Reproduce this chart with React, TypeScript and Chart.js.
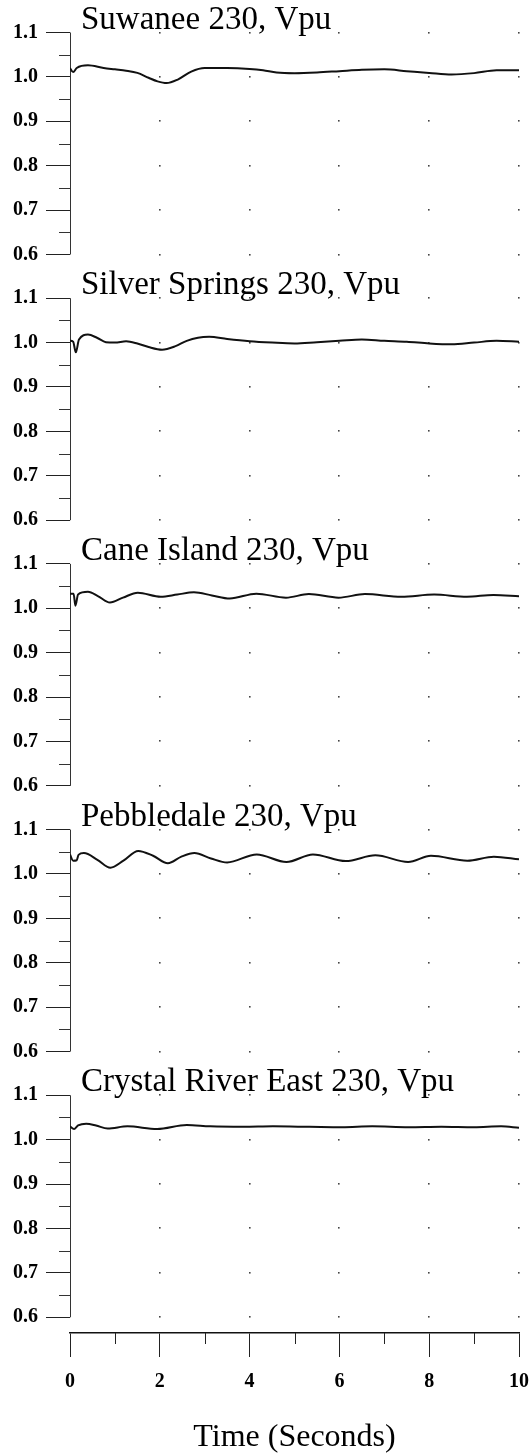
import React, { useEffect, useRef } from 'react';
import { Chart, registerables } from 'chart.js';

Chart.register(...registerables);

// ---------- data ----------
const timeTicks = [0, 1, 2, 3, 4, 5, 6, 7, 8, 9, 10];
const voltTicks = [0.6, 0.65, 0.7, 0.75, 0.8, 0.85, 0.9, 0.95, 1.0, 1.05, 1.1];
const panelTitles = [
  'Suwanee 230, Vpu',
  'Silver Springs 230, Vpu',
  'Cane Island 230, Vpu',
  'Pebbledale 230, Vpu',
  'Crystal River East 230, Vpu',
];

const suwaneeT = [0, 0.07, 0.15, 0.4, 0.75, 1.0, 1.25, 1.5, 1.75, 1.95, 2.15, 2.4, 2.7, 3.0, 3.5, 4.0, 4.3, 4.6, 5.0, 5.5, 6.0, 6.5, 7.0, 7.5, 8.0, 8.5, 9.0, 9.5, 10];
const suwaneeV = [1.020, 1.011, 1.020, 1.026, 1.020, 1.017, 1.014, 1.009, 0.998, 0.990, 0.986, 0.994, 1.012, 1.020, 1.020, 1.018, 1.015, 1.010, 1.0085, 1.010, 1.013, 1.016, 1.017, 1.013, 1.009, 1.0055, 1.0085, 1.015, 1.015];

const silverT = [0, 0.07, 0.13, 0.2, 0.4, 0.6, 0.8, 1.0, 1.25, 1.5, 1.75, 2.05, 2.35, 2.6, 2.85, 3.1, 3.5, 4.0, 4.5, 5.0, 5.5, 6.0, 6.5, 7.0, 7.5, 8.0, 8.5, 9.0, 9.5, 10];
const silverV = [1.004, 1.002, 0.978, 1.007, 1.018, 1.011, 1.001, 1.000, 1.003, 0.998, 0.990, 0.984, 0.992, 1.004, 1.011, 1.013, 1.008, 1.003, 1.000, 0.998, 1.001, 1.004, 1.007, 1.004, 1.002, 0.998, 0.996, 1.000, 1.004, 1.002];

const caneT = [0, 0.08, 0.12, 0.18, 0.4, 0.63, 0.89, 1.18, 1.51, 2.02, 2.39, 2.76, 3.16, 3.56, 4.15, 4.81, 5.32, 5.98, 6.57, 7.38, 8.11, 8.84, 9.43, 10];
const caneV = [1.033, 1.033, 1.006, 1.031, 1.037, 1.027, 1.013, 1.024, 1.035, 1.026, 1.031, 1.036, 1.029, 1.022, 1.033, 1.024, 1.032, 1.024, 1.032, 1.026, 1.031, 1.026, 1.030, 1.027];

const pebbleT = [0, 0.07, 0.15, 0.19, 0.31, 0.61, 0.9, 1.19, 1.52, 1.85, 2.18, 2.48, 2.77, 3.14, 3.5, 4.16, 4.82, 5.41, 6.14, 6.8, 7.53, 8.04, 8.85, 9.44, 10];
const pebbleV = [1.044, 1.030, 1.031, 1.043, 1.047, 1.032, 1.014, 1.030, 1.052, 1.041, 1.024, 1.039, 1.047, 1.035, 1.026, 1.044, 1.027, 1.044, 1.029, 1.042, 1.027, 1.041, 1.030, 1.039, 1.033];

const crystalT = [0, 0.09, 0.18, 0.36, 0.58, 0.84, 1.28, 1.94, 2.6, 3.12, 3.86, 4.52, 5.33, 6.06, 6.73, 7.54, 8.27, 9.0, 9.6, 10];
const crystalV = [1.030, 1.024, 1.032, 1.036, 1.032, 1.025, 1.030, 1.024, 1.033, 1.030, 1.029, 1.030, 1.029, 1.028, 1.030, 1.028, 1.029, 1.028, 1.030, 1.027];

const seriesT = [suwaneeT, silverT, caneT, pebbleT, crystalT];
const seriesV = [suwaneeV, silverV, caneV, pebbleV, crystalV];

// ---------- helpers ----------
const FONT = '"Liberation Serif", "Times New Roman", serif';
const panelIds = ['y1', 'y2', 'y3', 'y4', 'y5'];
const isMajorV = (v: number) => Math.abs(v * 10 - Math.round(v * 10)) < 1e-6;
const isMajorT = (v: number) => Math.round(v) % 2 === 0;

const decorPlugin = {
  id: 'decor',
  beforeDatasetsDraw(chart: any) {
    const { ctx } = chart;
    const xs = chart.scales.x;
    const x0 = Math.round(xs.getPixelForValue(0));
    ctx.save();
    panelIds.forEach((id, i) => {
      const ys = chart.scales[id];
      const top = ys.getPixelForValue(1.1);
      const bottom = ys.getPixelForValue(0.6);
      ctx.strokeStyle = '#333';
      ctx.lineWidth = 1;
      ctx.beginPath();
      ctx.moveTo(x0 + 0.5, top);
      ctx.lineTo(x0 + 0.5, bottom);
      voltTicks.forEach((v) => {
        if (!isMajorV(v)) {
          const py = Math.round(ys.getPixelForValue(v)) + 0.5;
          ctx.moveTo(x0 - 11, py);
          ctx.lineTo(x0 + 1, py);
        }
      });
      ctx.stroke();
      ctx.fillStyle = '#444';
      timeTicks.forEach((t) => {
        if (t === 0 || !isMajorT(t)) return;
        const px = Math.round(xs.getPixelForValue(t));
        voltTicks.forEach((v) => {
          if (!isMajorV(v)) return;
          const py = Math.round(ys.getPixelForValue(v));
          ctx.fillRect(px - 1, py - 1, 1.6, 1.6);
        });
      });
      ctx.fillStyle = '#000';
      ctx.font = `33px ${FONT}`;
      ctx.textAlign = 'left';
      ctx.textBaseline = 'alphabetic';
      ctx.fillText(panelTitles[i], x0 + 11, top - 4);
    });
    const yb = xs.top;
    ctx.strokeStyle = '#222';
    ctx.lineWidth = 1;
    ctx.beginPath();
    timeTicks.forEach((t) => {
      if (isMajorT(t)) return;
      const px = Math.round(xs.getPixelForValue(t)) + 0.5;
      ctx.moveTo(px, yb);
      ctx.lineTo(px, yb + 11);
    });
    ctx.stroke();
    ctx.restore();
  },
};

const panelMin = [0.5016, 0.5016, 0.5016, 0.5016, 0.5646];

function makeY(i: number) {
  return {
    type: 'linear',
    position: 'left',
    stack: 'volts',
    stackWeight: 1.1 - panelMin[i],
    weight: 5 - i,
    min: panelMin[i],
    max: 1.1,
    offset: false,
    afterBuildTicks: (s: any) => {
      s.ticks = voltTicks.map((value) => ({ value }));
    },
    afterFit: (s: any) => {
      s.width = 70;
      s.paddingTop = 0;
      s.paddingBottom = 0;
    },
    border: { display: false },
    grid: {
      drawOnChartArea: false,
      drawTicks: true,
      tickLength: 24,
      lineWidth: 1,
      tickColor: (c: any) => (c.tick && isMajorV(c.tick.value) ? '#222' : 'rgba(0,0,0,0)'),
    },
    ticks: {
      autoSkip: false,
      padding: 8,
      color: '#000',
      font: { family: FONT, size: 20, weight: 'bold' },
      callback: (v: number) => (isMajorV(v) ? v.toFixed(1) : ''),
    },
  };
}

export default function App() {
  const ref = useRef<HTMLCanvasElement>(null);
  useEffect(() => {
    if (!ref.current) return;
    const scales: any = {
      x: {
        type: 'linear',
        position: 'bottom',
        min: 0,
        max: 10,
        offset: false,
        afterBuildTicks: (s: any) => {
          s.ticks = timeTicks.map((value) => ({ value }));
        },
        afterFit: (s: any) => {
          s.height = 121;
          s.paddingLeft = 0;
          s.paddingRight = 0;
        },
        border: { display: true, color: '#111', width: 1.5 },
        grid: {
          drawOnChartArea: false,
          drawTicks: true,
          tickLength: 24,
          lineWidth: 1,
          tickColor: (c: any) => (c.tick && isMajorT(c.tick.value) ? '#222' : 'rgba(0,0,0,0)'),
        },
        ticks: {
          autoSkip: false,
          maxRotation: 0,
          padding: 13,
          color: '#000',
          font: { family: FONT, size: 20, weight: 'bold' },
          callback: (v: number) => (isMajorT(v) ? String(v) : ''),
        },
        title: {
          display: true,
          text: 'Time (Seconds)',
          color: '#000',
          font: { family: FONT, size: 32, lineHeight: 1.05 },
          padding: { top: 0, bottom: 0 },
        },
      },
    };
    panelIds.forEach((id, i) => {
      scales[id] = makeY(i);
    });
    const datasets = panelIds.map((id, i) => ({
      label: panelTitles[i],
      yAxisID: id,
      data: seriesT[i].map((t, k) => ({ x: t, y: seriesV[i][k] })),
      borderColor: '#111',
      borderWidth: 2,
      pointRadius: 0,
      fill: false,
      cubicInterpolationMode: 'monotone',
    }));
    const chart = new Chart(ref.current, {
      type: 'line',
      data: { datasets } as any,
      options: {
        responsive: false,
        animation: false,
        devicePixelRatio: 1,
        layout: { padding: { top: 32.5, right: 13, bottom: 0, left: 0 } },
        plugins: { legend: { display: false }, tooltip: { enabled: false }, title: { display: false } },
        scales,
      } as any,
      plugins: [decorPlugin],
    });
    return () => chart.destroy();
  }, []);
  return (
    <div style={{ position: 'absolute', left: 0, top: 0, width: 532, height: 1454, background: '#fff' }}>
      <canvas ref={ref} width={532} height={1454} style={{ display: 'block', width: 532, height: 1454 }} />
    </div>
  );
}
